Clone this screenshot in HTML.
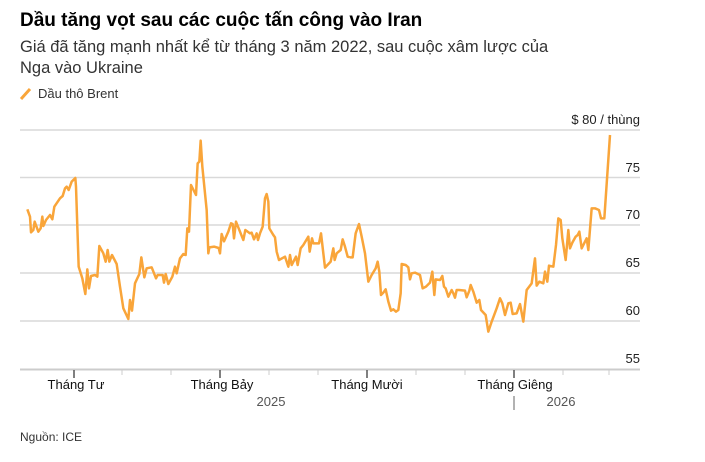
<!DOCTYPE html>
<html><head><meta charset="utf-8"><style>
body{margin:0;background:#fff;width:705px;height:457px;overflow:hidden;font-family:"Liberation Sans",sans-serif;}
</style></head><body>
<svg width="705" height="457" xmlns="http://www.w3.org/2000/svg" font-family="Liberation Sans, sans-serif">
<text x="20" y="26" font-size="19" font-weight="bold" fill="#000">Dầu tăng vọt sau các cuộc tấn công vào Iran</text>
<text x="20" y="52" font-size="16.5" fill="#333">Giá đã tăng mạnh nhất kể từ tháng 3 năm 2022, sau cuộc xâm lược của</text>
<text x="20" y="73" font-size="16.5" fill="#333">Nga vào Ukraine</text>
<line x1="21" y1="99" x2="30" y2="89" stroke="#f9a53a" stroke-width="3"/>
<text x="38" y="98" font-size="13" fill="#333">Dầu thô Brent</text>
<g stroke="#d9d9d9" stroke-width="1.5">
<line x1="20" y1="130" x2="640" y2="130"/>
<line x1="20" y1="177.5" x2="640" y2="177.5"/>
<line x1="20" y1="225" x2="640" y2="225"/>
<line x1="20" y1="273" x2="640" y2="273"/>
<line x1="20" y1="321" x2="640" y2="321"/>
<line x1="20" y1="369.5" x2="640" y2="369.5" stroke="#ccc" stroke-width="2"/>
</g>
<g font-size="13" fill="#222" text-anchor="end">
<text x="640" y="124">$ 80 / thùng</text>
<text x="640" y="172">75</text>
<text x="640" y="219">70</text>
<text x="640" y="267">65</text>
<text x="640" y="315">60</text>
<text x="640" y="363">55</text>
</g>
<g stroke="#555" stroke-width="1.5">
<line x1="74" y1="370" x2="74" y2="378"/><line x1="220" y1="370" x2="220" y2="378"/>
<line x1="367" y1="370" x2="367" y2="378"/><line x1="514" y1="370" x2="514" y2="378"/>
</g>
<g stroke="#ccc" stroke-width="1">
<line x1="122" y1="370" x2="122" y2="375"/><line x1="171" y1="370" x2="171" y2="375"/>
<line x1="269" y1="370" x2="269" y2="375"/><line x1="318" y1="370" x2="318" y2="375"/>
<line x1="416" y1="370" x2="416" y2="375"/><line x1="465" y1="370" x2="465" y2="375"/>
<line x1="563" y1="370" x2="563" y2="375"/><line x1="609" y1="370" x2="609" y2="375"/>
</g>
<line x1="514" y1="396" x2="514" y2="410" stroke="#999" stroke-width="1.5"/>
<g font-size="13" fill="#111" text-anchor="middle">
<text x="76" y="389">Tháng Tư</text>
<text x="222" y="389">Tháng Bảy</text>
<text x="367" y="389">Tháng Mười</text>
<text x="515" y="389">Tháng Giêng</text>
</g>
<g font-size="13" fill="#555" text-anchor="middle">
<text x="271" y="406">2025</text>
<text x="561" y="406">2026</text>
</g>
<text x="20" y="441" font-size="12" fill="#333">Nguồn: ICE</text>
<g fill="none" stroke="#f9a53a" stroke-width="2.5" stroke-linejoin="round">
<polyline transform="translate(20,120) scale(0.33333)" vector-effect="non-scaling-stroke" points="22,268 30,290 33,337 40,330 44,305 55,335 62,325 67,290 70,318 78,300 90,285 97,298 103,260 120,235 128,228 135,205 140,200 146,210 155,185 160,180 166,174 168,200 176,440 187,475 196,522 202,448 207,505 213,468 225,465 232,470 238,378 250,400 257,425 263,390 268,425 276,405 290,432 300,500 310,565 325,597 330,540 336,572 345,490 358,462 364,412 373,472 380,445 395,442 408,475 413,465 428,465 432,488 437,462 445,492 457,470 465,440 470,460 480,415 490,402 497,405 502,325 507,335 513,195 528,225 533,130 538,125 542,62 547,140 560,270 565,400 568,382 583,380 596,384 600,400 605,342 612,364 625,335 633,310 638,312 642,355 648,305 660,335 670,360 676,330 690,340 695,338 702,358 710,340 714,360 720,340 728,320 735,235 740,222 745,245 748,325 760,345 765,352 770,395 777,420 795,410 805,440 810,405 815,435 828,410 833,435 842,385 850,375 865,350 869,395 876,355 880,370 897,370 903,340 910,400 915,443 932,425 940,385 944,420 950,400 962,390 968,358 975,380 983,410 990,412"/>
<polyline transform="translate(340,120) scale(0.33333)" vector-effect="non-scaling-stroke" points="30,412 38,412 47,340 57,312 65,350 75,400 85,485 95,465 107,445 113,425 118,455 123,525 130,518 137,508 145,545 153,572 160,568 168,575 175,570 182,520 185,432 197,435 205,442 210,478 215,460 225,458 240,465 248,505 258,500 270,488 277,455 283,525 287,478 300,480 307,468 312,500 317,505 325,530 335,510 340,520 345,533 350,510 357,510 375,512 380,532 388,512 392,495 400,515 410,548 418,540 423,570 437,585 445,635 455,605 470,565 480,535 487,550 495,585 505,550 512,548 518,582 530,580 540,552 550,605 560,510 575,490 585,415 590,497 598,485 610,490 615,455 622,485 627,437 640,440 648,375 655,295 662,300 667,355 677,420 685,330 690,385 697,368 707,350 713,345 718,335 725,385 740,355 745,390 755,265 765,265 777,270 783,295 793,295 810,45"/>
</g>
</svg>
</body></html>
